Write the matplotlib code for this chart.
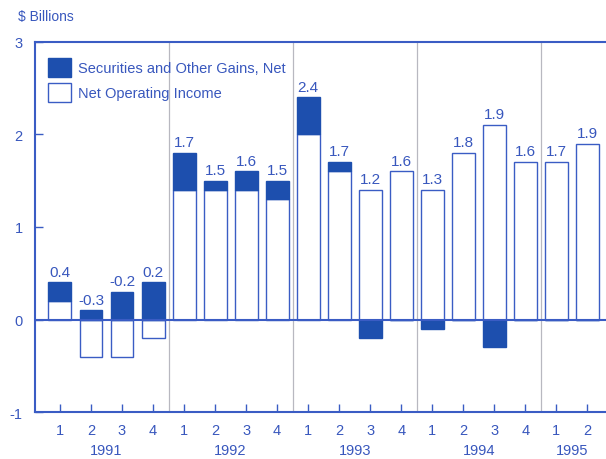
import numpy as np
import matplotlib.pyplot as plt

quarters = ["1", "2", "3", "4", "1", "2", "3", "4", "1", "2", "3", "4", "1", "2", "3", "4", "1", "2"]
years = ["1991", "1992", "1993", "1994", "1995"]
net_operating = [0.2, -0.4, -0.4, -0.2, 1.4, 1.4, 1.4, 1.3, 2.0, 1.6, 1.4, 1.6, 1.4, 1.8, 2.1, 1.7, 1.7, 1.9]
securities = [0.2, 0.1, 0.3, 0.4, 0.4, 0.1, 0.2, 0.2, 0.4, 0.1, -0.2, 0.0, -0.1, 0.0, -0.3, 0.0, 0.0, 0.0]
labels = ["0.4", "-0.3", "-0.2", "0.2", "1.7", "1.5", "1.6", "1.5", "2.4", "1.7", "1.2", "1.6", "1.3", "1.8", "1.9", "1.6", "1.7", "1.9"]

blue = "#3a5cc4"
dark = "#1d4fae"
text_c = "#3857bd"

plt.rcParams["font.family"] = ["Liberation Sans", "DejaVu Sans"]
fig = plt.figure(figsize=(6.06, 4.60), dpi=100)
ax = fig.add_axes([0.058, 0.102, 0.942, 0.805])

x = np.arange(len(quarters))
noi = np.array(net_operating)
sec = np.array(securities)
# securities stack on top of positive noi, otherwise start at zero
sec_base = np.where((sec > 0) & (noi > 0), noi, 0.0)

ax.bar(x, noi, width=0.74, color="white", edgecolor=blue, linewidth=1.0, zorder=3)
ax.bar(x, sec, bottom=sec_base, width=0.74, color=dark, edgecolor=dark, linewidth=1.0, zorder=3)

for i in range(len(x)):
    top = max(noi[i], sec_base[i] + sec[i], 0)
    ax.text(x[i], top + 0.04, labels[i], ha="center", va="bottom", fontsize=11, color=text_c)

for xs in [3.5, 7.5, 11.5, 15.5]:
    ax.axvline(xs, color="#b8b8c0", lw=0.9, zorder=1)
ax.axhline(0, color=blue, lw=1.5, zorder=4)

ax.set_xlim(-0.8, 17.6)
ax.set_ylim(-1, 3)
ax.set_yticks([-1, 0, 1, 2, 3])
ax.set_yticklabels(["-1", "0", "1", "2", "3"])
ax.set_xticks(x)
ax.set_xticklabels(quarters)
ax.tick_params(axis="both", direction="in", colors=blue, labelcolor=text_c, labelsize=10.5, length=6, width=1)
ax.tick_params(axis="y", pad=9)
ax.tick_params(axis="x", pad=8)

for s in ["left", "bottom", "top"]:
    ax.spines[s].set_color(blue)
    ax.spines[s].set_linewidth(1.5)
ax.spines["right"].set_visible(False)

for j, yr in enumerate(years):
    ax.text(j * 4 + 1.5 if j < 4 else 16.5, -1.41, yr, ha="center", va="center", fontsize=10.5, color=text_c)

fig.text(0.03, 0.962, "$ Billions", fontsize=10, color=text_c, va="center")

# legend drawn by hand
ax.add_patch(plt.Rectangle((0.023, 0.905), 0.039, 0.05, transform=ax.transAxes, facecolor=dark, edgecolor=dark, zorder=5))
ax.add_patch(plt.Rectangle((0.023, 0.838), 0.039, 0.05, transform=ax.transAxes, facecolor="white", edgecolor=blue, lw=1, zorder=5))
ax.text(0.075, 0.93, "Securities and Other Gains, Net", transform=ax.transAxes, fontsize=10.5, color=text_c, va="center")
ax.text(0.075, 0.862, "Net Operating Income", transform=ax.transAxes, fontsize=10.5, color=text_c, va="center")

fig.savefig("out.png", dpi=100)
